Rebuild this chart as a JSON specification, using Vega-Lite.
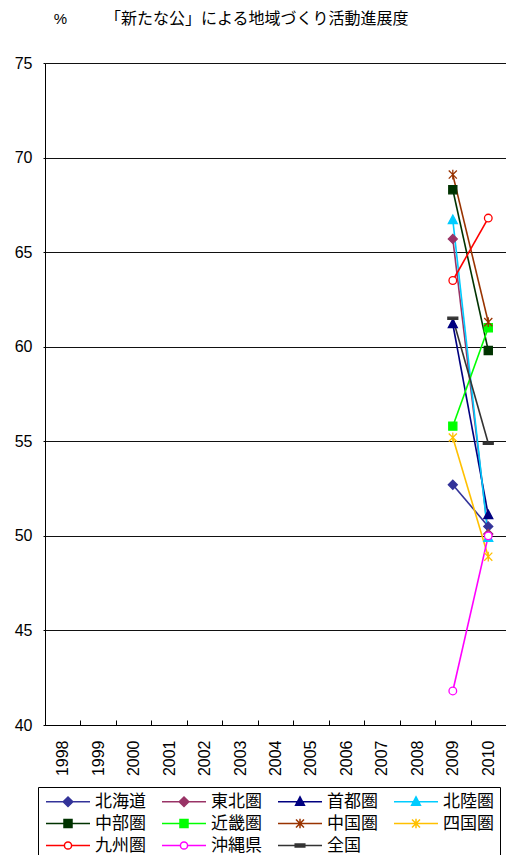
{
  "$schema": "https://vega.github.io/schema/vega-lite/v6.json",
  "width": 461,
  "height": 662,
  "autosize": {"type": "none"},
  "padding": {"left": 45, "top": 63, "right": 0, "bottom": 130},
  "background": "white",
  "config": {"view": {"stroke": null}, "font": "Liberation Sans"},
  "title": {
    "text": "「新たな公」による地域づくり活動進展度",
    "anchor": "start",
    "frame": "group",
    "dx": 60,
    "offset": -16,
    "font": "Noto Sans CJK JP",
    "fontSize": 16,
    "fontWeight": "normal",
    "color": "black"
  },
  "data": {
    "values": [
      {"region": "北海道", "year": "2009", "value": 52.7},
      {"region": "北海道", "year": "2010", "value": 50.5},
      {"region": "東北圏", "year": "2009", "value": 65.7},
      {"region": "東北圏", "year": "2010", "value": 50.1},
      {"region": "首都圏", "year": "2009", "value": 61.2},
      {"region": "首都圏", "year": "2010", "value": 51.1},
      {"region": "北陸圏", "year": "2009", "value": 66.7},
      {"region": "北陸圏", "year": "2010", "value": 49.9},
      {"region": "中部圏", "year": "2009", "value": 68.3},
      {"region": "中部圏", "year": "2010", "value": 59.8},
      {"region": "近畿圏", "year": "2009", "value": 55.8},
      {"region": "近畿圏", "year": "2010", "value": 61.0},
      {"region": "中国圏", "year": "2009", "value": 69.1},
      {"region": "中国圏", "year": "2010", "value": 61.3},
      {"region": "四国圏", "year": "2009", "value": 55.2},
      {"region": "四国圏", "year": "2010", "value": 48.9},
      {"region": "九州圏", "year": "2009", "value": 63.5},
      {"region": "九州圏", "year": "2010", "value": 66.8},
      {"region": "沖縄県", "year": "2009", "value": 41.8},
      {"region": "沖縄県", "year": "2010", "value": 50.0},
      {"region": "全国", "year": "2009", "value": 61.5},
      {"region": "全国", "year": "2010", "value": 54.9}
    ]
  },
  "encoding": {
    "x": {
      "field": "year",
      "type": "ordinal",
      "scale": {
        "type": "band",
        "domain": ["1998","1999","2000","2001","2002","2003","2004","2005","2006","2007","2008","2009","2010"],
        "paddingInner": 0,
        "paddingOuter": 0
      },
      "axis": {
        "title": null,
        "labelAngle": 270,
        "labelFont": "Liberation Sans",
        "labelFontSize": 16,
        "labelColor": "black",
        "labelPadding": 20,
        "tickBand": "extent",
        "tickSize": -5,
        "tickColor": "black",
        "domainColor": "black",
        "grid": false
      }
    },
    "y": {
      "field": "value",
      "type": "quantitative",
      "scale": {"domain": [40, 75], "zero": false, "nice": false},
      "axis": {
        "values": [40, 45, 50, 55, 60, 65, 70, 75],
        "title": "%",
        "titleAngle": 0,
        "titleX": 15,
        "titleY": -45,
        "titleAlign": "center",
        "titleBaseline": "middle",
        "titleFont": "Liberation Sans",
        "titleFontSize": 15,
        "titleFontWeight": "normal",
        "titleColor": "black",
        "labelFont": "Liberation Sans",
        "labelFontSize": 16,
        "labelColor": "black",
        "labelPadding": 11,
        "tickSize": 2,
        "tickColor": "black",
        "domainColor": "black",
        "grid": true,
        "gridColor": "#111111",
        "gridWidth": 1
      }
    }
  },
  "resolve": {"legend": {"stroke": "independent"}},
  "layer": [
    {
      "mark": {"type": "line", "strokeWidth": 1.6},
      "encoding": {
        "stroke": {
          "field": "region",
          "type": "nominal",
          "scale": {
            "domain": ["北海道","東北圏","首都圏","北陸圏","中部圏","近畿圏","中国圏","四国圏","九州圏","沖縄県","全国"],
            "range": ["#333399","#993366","#000080","#00CCFF","#003300","#00FF00","#993300","#FFC000","#FF0000","#FF00FF","#333333"]
          },
          "legend": {
            "orient": "none",
            "legendX": -7,
            "legendY": 724,
            "columns": 4,
            "direction": "horizontal",
            "title": null,
            "strokeColor": "black",
            "padding": 6,
            "rowPadding": 4,
            "columnPadding": 13,
            "symbolSize": 64,
            "symbolStrokeWidth": 1.5,
            "symbolOffset": 15.5,
            "labelOffset": 18.5,
            "labelFont": "Noto Sans CJK JP",
            "labelFontSize": 17,
            "labelColor": "black",
            "encode": {
              "symbols": {
                "update": {
                  "shape": {"signal": "{'北海道':'M-5.5,0H5.5M0,-1.2L1.2,0L0,1.2L-1.2,0Z','東北圏':'M-5.5,0H5.5M0,-1.2L1.2,0L0,1.2L-1.2,0Z','首都圏':'M-5.5,0H5.5M0,-1.2L1.1,0.9L-1.1,0.9Z','北陸圏':'M-5.5,0H5.5M0,-1.2L1.1,0.9L-1.1,0.9Z','中部圏':'M-5.5,0H5.5M-1,-1H1V1H-1Z','近畿圏':'M-5.5,0H5.5M-1,-1H1V1H-1Z','中国圏':'M-5.5,0H5.5M-1,-1L1,1M-1,1L1,-1M0,-1.2V1.2','四国圏':'M-5.5,0H5.5M-1,-1L1,1M-1,1L1,-1M0,-1.2V1.2','九州圏':'M-5.5,0H-0.9M0.9,0H5.5M0.9,0A0.9,0.9 0 1,1 -0.9,0A0.9,0.9 0 1,1 0.9,0Z','沖縄県':'M-5.5,0H-0.9M0.9,0H5.5M0.9,0A0.9,0.9 0 1,1 -0.9,0A0.9,0.9 0 1,1 0.9,0Z','全国':'M-5.5,0H5.5M-1.2,-0.35H1.2V0.35H-1.2Z'}[datum.value]"},
                  "fill": {"signal": "{'北海道':'#333399','東北圏':'#993366','首都圏':'#000080','北陸圏':'#00CCFF','中部圏':'#003300','近畿圏':'#00FF00','中国圏':'#993300','四国圏':'#FFC000','九州圏':'#FFFFFF','沖縄県':'#FFFFFF','全国':'#333333'}[datum.value]"},
                  "opacity": {"value": 1}
                }
              }
            }
          }
        }
      }
    },
    {
      "mark": {"type": "point", "filled": true, "size": 81, "strokeWidth": 1.3, "opacity": 1},
      "encoding": {
        "stroke": {"field": "region", "type": "nominal", "legend": null},
        "shape": {
          "field": "region",
          "type": "nominal",
          "legend": null,
          "scale": {
            "domain": ["北海道","東北圏","首都圏","北陸圏","中部圏","近畿圏","中国圏","四国圏","九州圏","沖縄県","全国"],
            "range": [
              "M0,-1L1,0L0,1L-1,0Z",
              "M0,-1L1,0L0,1L-1,0Z",
              "M0,-1.1L1,0.8L-1,0.8Z",
              "M0,-1.1L1,0.8L-1,0.8Z",
              "M-0.9,-0.9H0.9V0.9H-0.9Z",
              "M-0.9,-0.9H0.9V0.9H-0.9Z",
              "M-0.9,-0.9L0.9,0.9M-0.9,0.9L0.9,-0.9M0,-1.1V1.1",
              "M-0.9,-0.9L0.9,0.9M-0.9,0.9L0.9,-0.9M0,-1.1V1.1",
              "M0.85,0A0.85,0.85 0 1,1 -0.85,0A0.85,0.85 0 1,1 0.85,0Z",
              "M0.85,0A0.85,0.85 0 1,1 -0.85,0A0.85,0.85 0 1,1 0.85,0Z",
              "M-1.1,-0.25H1.1V0.25H-1.1Z"
            ]
          }
        },
        "fill": {
          "field": "region",
          "type": "nominal",
          "legend": null,
          "scale": {
            "domain": ["北海道","東北圏","首都圏","北陸圏","中部圏","近畿圏","中国圏","四国圏","九州圏","沖縄県","全国"],
            "range": ["#333399","#993366","#000080","#00CCFF","#003300","#00FF00","#993300","#FFC000","#FFFFFF","#FFFFFF","#333333"]
          }
        }
      }
    }
  ]
}
